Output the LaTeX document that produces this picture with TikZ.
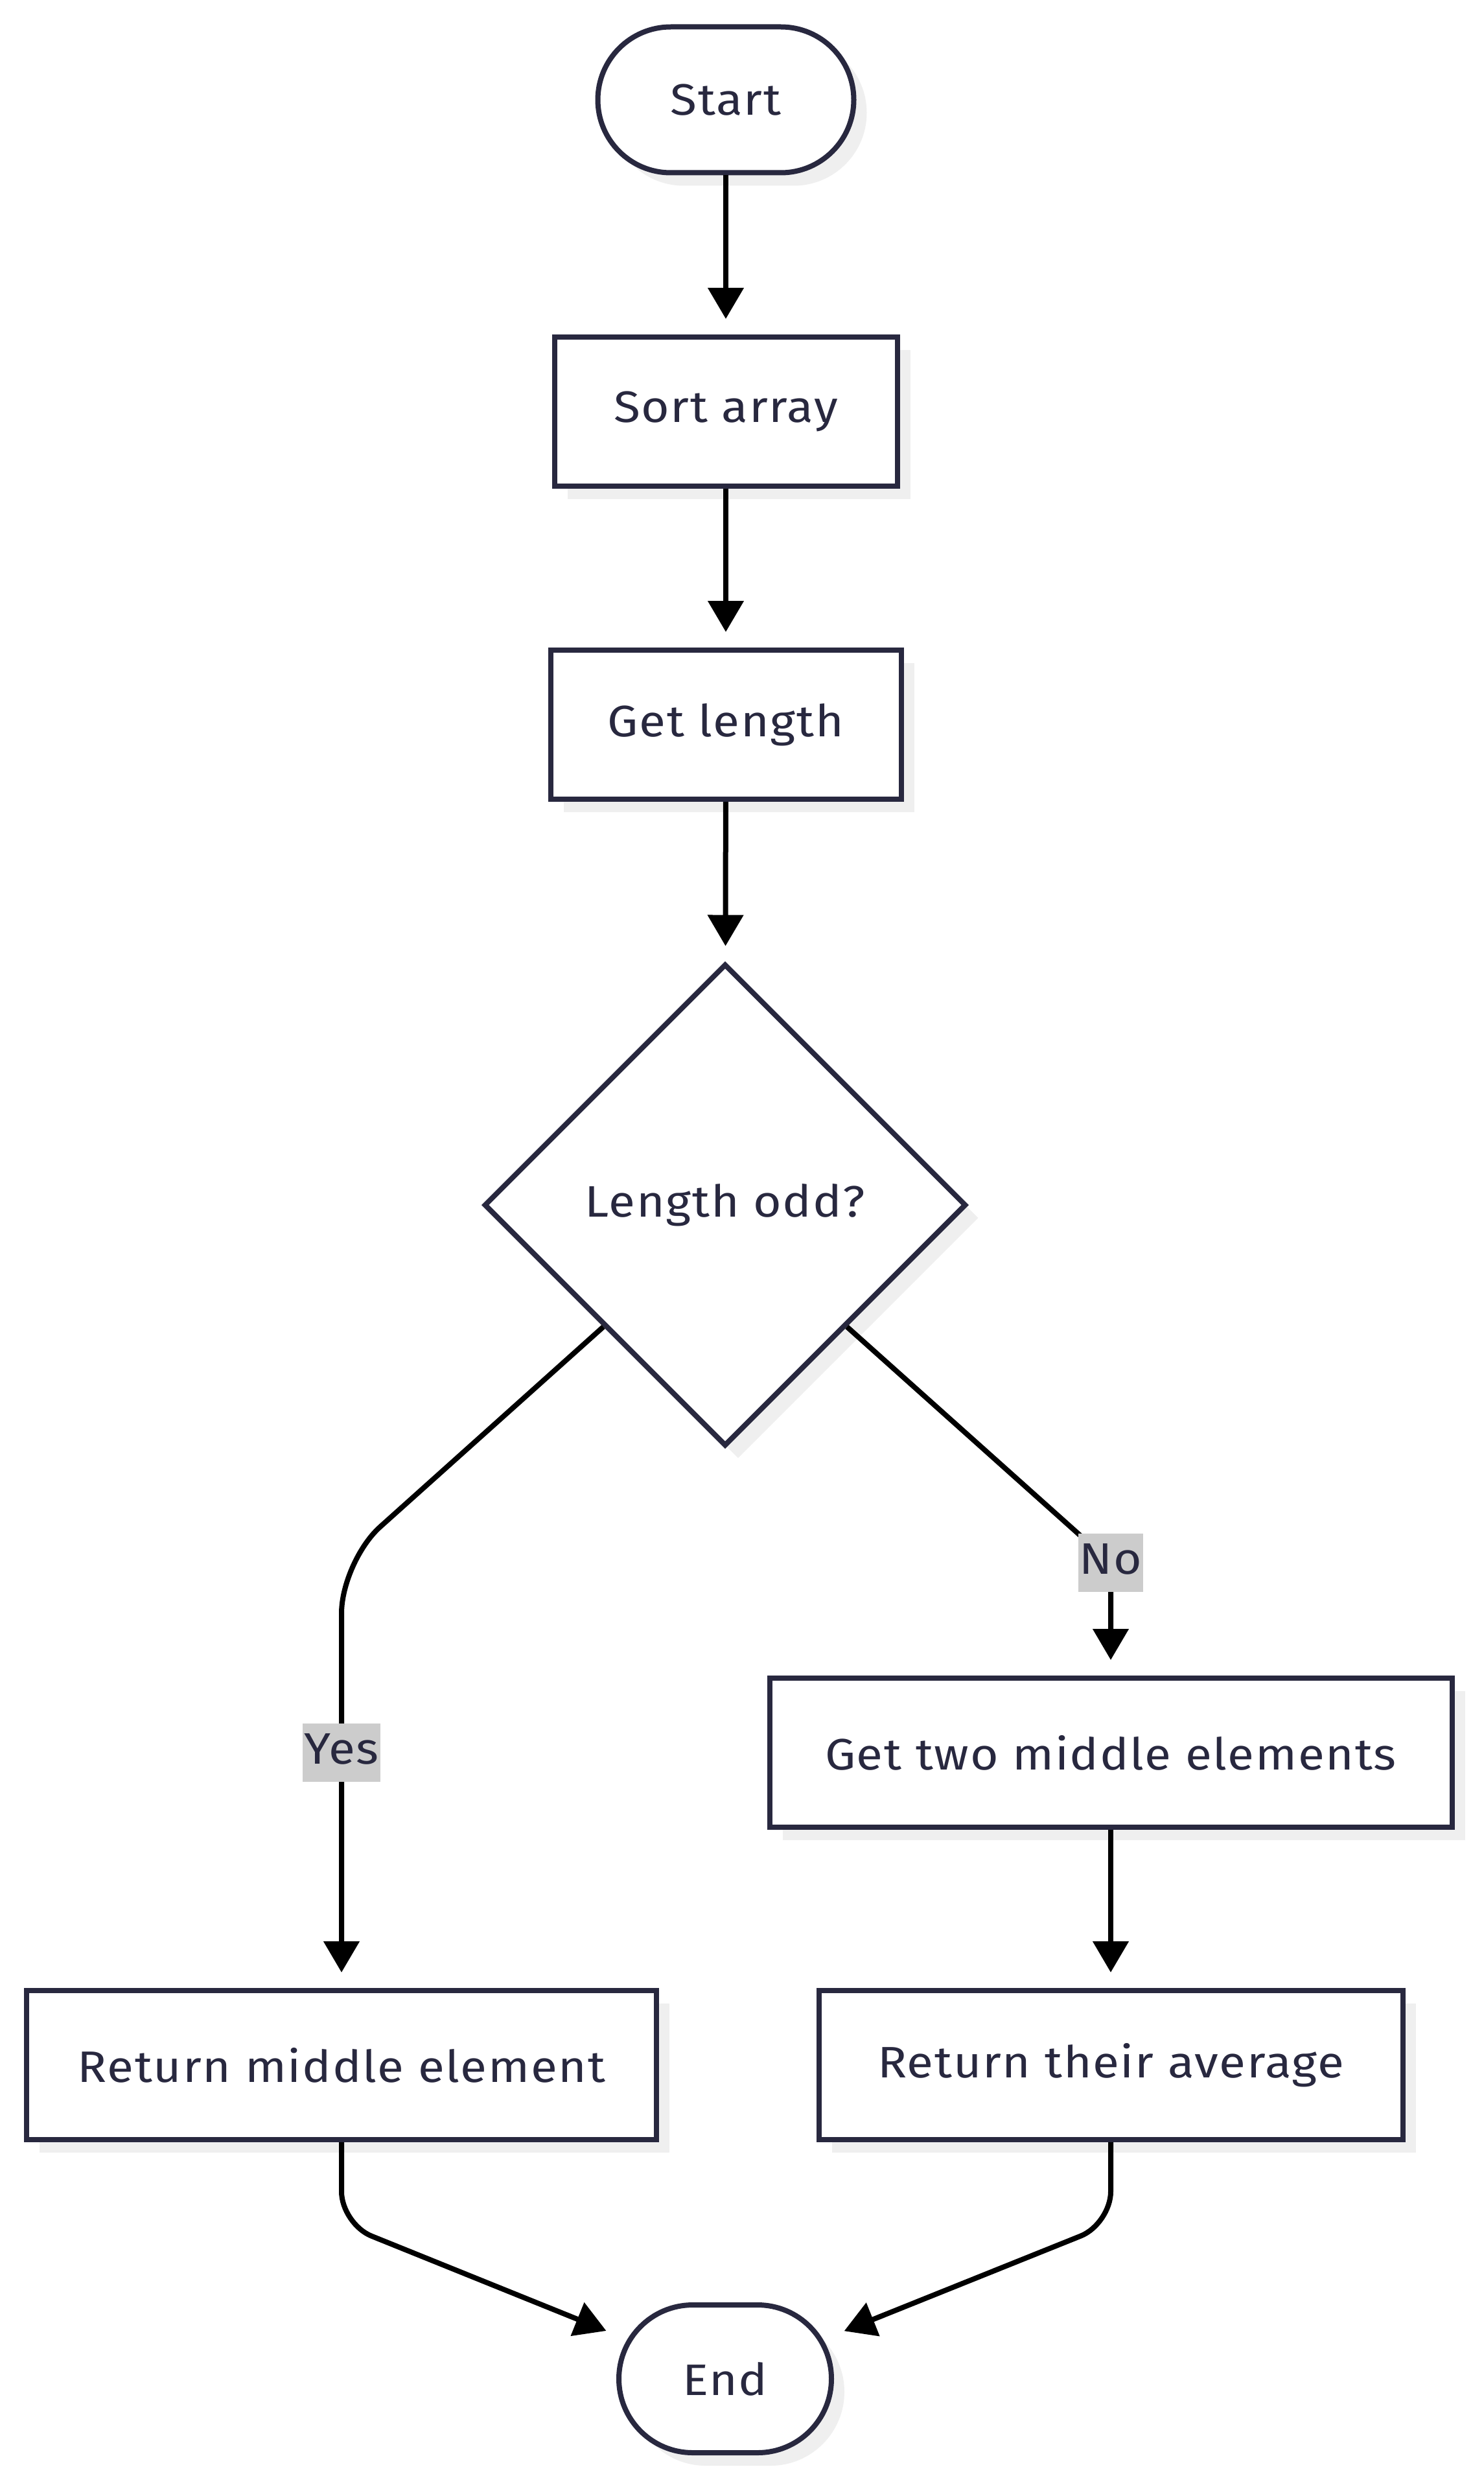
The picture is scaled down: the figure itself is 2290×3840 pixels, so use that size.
\documentclass[tikz,border=0pt]{standalone}
\usepackage{fontspec}
\setmainfont[LetterSpace=2.5,FakeStretch=1.1]{Fira Sans}
\usetikzlibrary{shapes.geometric,shapes.misc,arrows.meta,shadows}
\definecolor{ink}{HTML}{28283F}
\definecolor{shade}{HTML}{EFEFEF}
\definecolor{lblbg}{HTML}{CCCCCC}
\begin{document}
\begin{tikzpicture}[x=1pt,y=-1pt,
  box/.style={draw=ink, line width=8pt, fill=white, text=ink,
    font=\fontsize{68}{74}\selectfont, inner sep=0pt,
    drop shadow={shadow xshift=20pt, shadow yshift=-20pt, fill=shade, opacity=1}},
  proc/.style={box, rectangle, minimum height=230pt},
  term/.style={box, rounded rectangle, minimum height=225pt},
  dec/.style={box, diamond, minimum width=744pt, minimum height=744pt},
  lbl/.style={fill=lblbg, text=ink, font=\fontsize{68}{74}\selectfont,
    inner xsep=2pt, inner ysep=12pt, text height=50pt, text depth=16pt},
  edge/.style={line width=8pt, draw=black, -{Triangle[length=48pt,width=54pt]}, shorten >=24pt}
]
\useasboundingbox (0,0) rectangle (2290,3840);
\fill[white] (0,0) rectangle (2290,3840);

\node[term, minimum width=395pt] (start) at (1120,154) {Start};
\node[proc, minimum width=529pt] (sort) at (1120,635) {Sort array};
\node[proc, minimum width=541pt] (len) at (1120,1118) {Get length};
\node[dec] (odd) at (1119,1859) {Length odd?};
\node[proc, minimum width=1053pt] (two) at (1714,2704) {Get two middle elements};
\node[proc, minimum width=972pt] (mid) at (527,3186) {Return middle element};
\node[proc, minimum width=901pt] (avg) at (1714,3186) {Return their average};
\node[term, minimum width=328pt, minimum height=228pt] (end) at (1119,3670) {End};

\coordinate (cl) at (527,2409);
\coordinate (cr) at (1714,2411);
\coordinate (bl) at (527,3431);
\coordinate (br) at (1714,3431);

\draw[edge] (start) -- (sort);
\draw[edge] (sort) -- (len);
\draw[edge] (len) -- (odd);
\draw[edge, rounded corners=80pt] (odd.south west) -- (cl) -- (mid.north);
\draw[edge, rounded corners=35pt] (odd.south east) -- (cr) -- (two.north);
\draw[edge] (two) -- (avg);
\draw[edge, rounded corners=50pt, shorten >=35pt] (mid.south) -- (bl) -- (end);
\draw[edge, rounded corners=50pt, shorten >=35pt] (avg.south) -- (br) -- (end);

\node[lbl] (yes) at (527,2704) {Yes};
\node[lbl] (no) at (1714,2411) {No};
\end{tikzpicture}
\end{document}
